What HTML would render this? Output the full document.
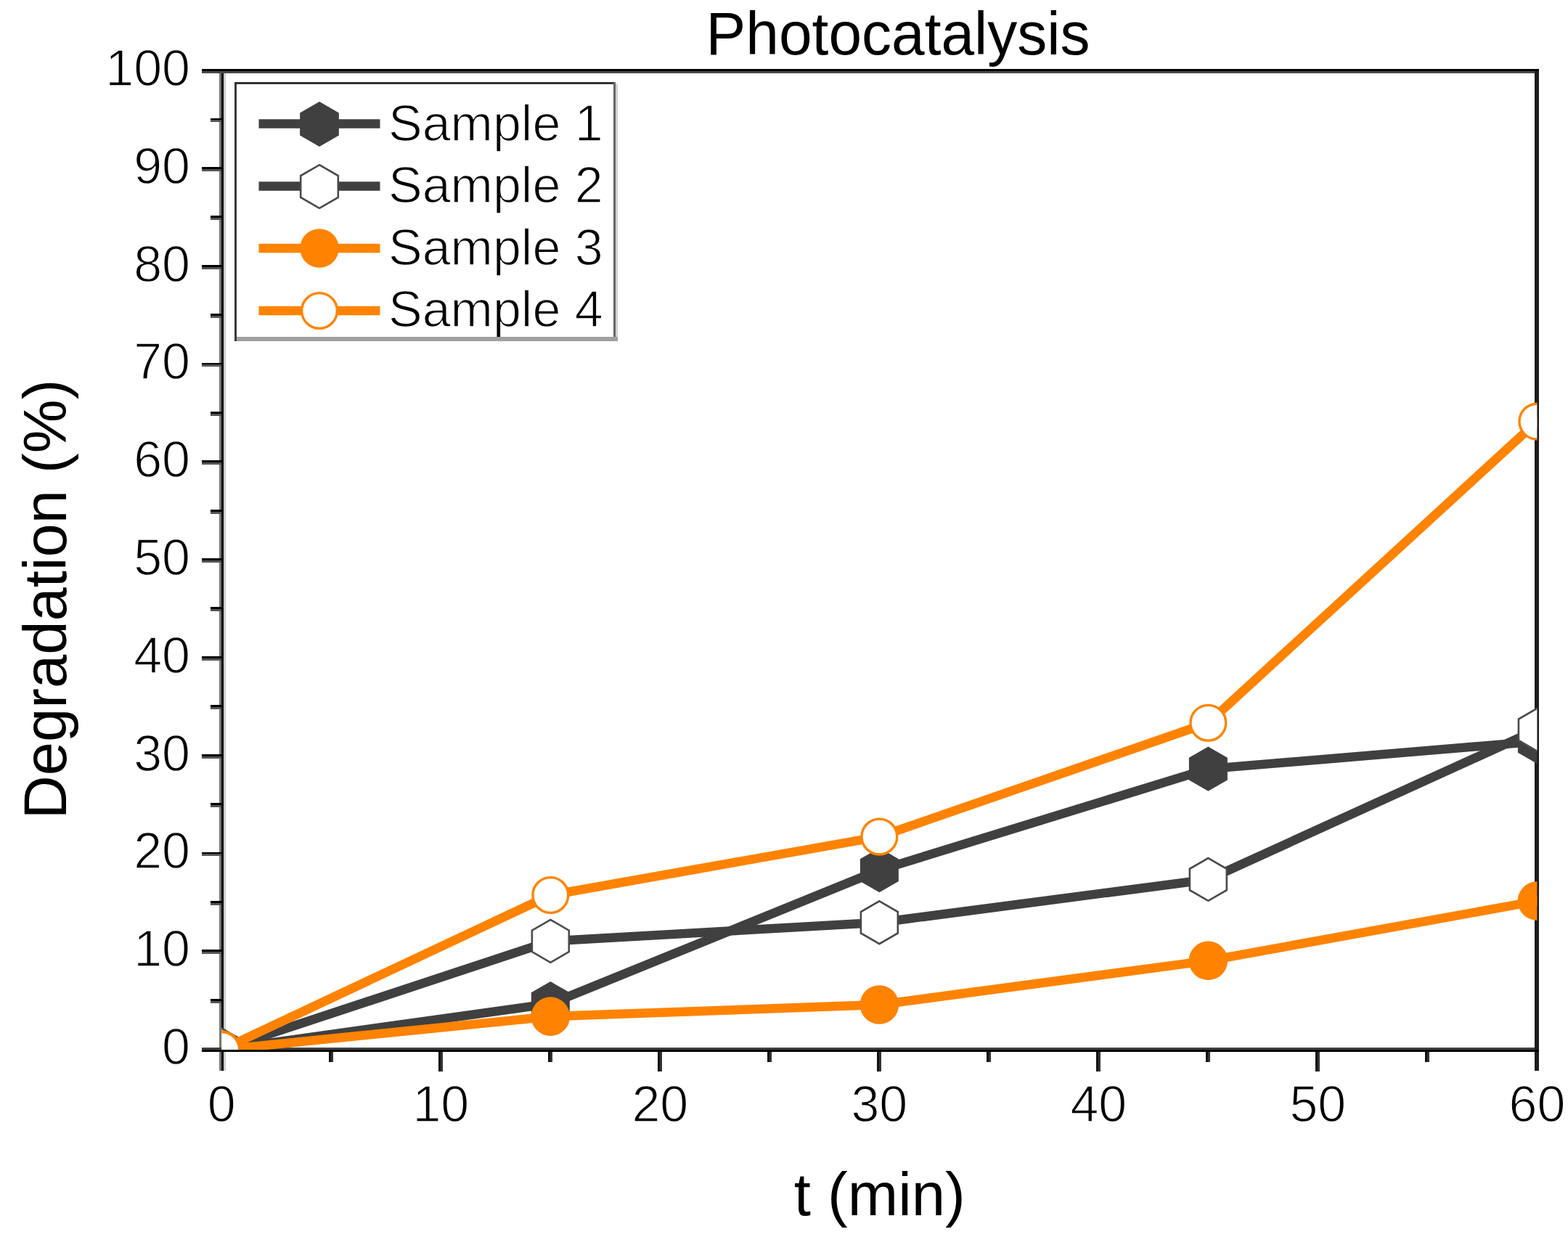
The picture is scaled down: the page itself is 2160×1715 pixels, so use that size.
<!DOCTYPE html>
<html><head><meta charset="utf-8"><title>Photocatalysis</title>
<style>html,body{margin:0;padding:0;background:#fff;} body{width:2160px;height:1715px;overflow:hidden;} svg{display:block;}</style>
</head><body>
<svg width="2160" height="1715" viewBox="0 0 2160 1715">
<style>text{font-family:"Liberation Sans",Arial,sans-serif;fill:#000;} .s{stroke:#fff;stroke-width:1.4px;}</style>
<rect x="0" y="0" width="2160" height="1715" fill="#fff"/>
<defs><clipPath id="pa"><rect x="305.30" y="98.00" width="1812.10" height="1348.00"/></clipPath></defs>
<rect x="302" y="95" width="3" height="1380" fill="#777"/>
<rect x="305" y="95" width="3" height="1380" fill="#000"/>
<rect x="308" y="101" width="3" height="1342" fill="#ccc"/>
<rect x="308" y="1449" width="3" height="26" fill="#ccc"/>
<rect x="2114" y="95" width="6" height="1380" fill="#1c1c1c"/>
<rect x="278" y="95" width="1842" height="3" fill="#000"/>
<rect x="278" y="98" width="1836" height="3" fill="#4a4a4a"/>
<rect x="278" y="1443" width="1836" height="3" fill="#404040"/>
<rect x="278" y="1446" width="1842" height="3" fill="#000"/>
<rect x="290" y="1376" width="15" height="3" fill="#000"/>
<rect x="290" y="1379" width="15" height="3" fill="#555"/>
<rect x="278" y="1308" width="27" height="3" fill="#000"/>
<rect x="278" y="1311" width="27" height="3" fill="#555"/>
<rect x="290" y="1241" width="15" height="3" fill="#000"/>
<rect x="290" y="1244" width="15" height="3" fill="#555"/>
<rect x="278" y="1174" width="27" height="2" fill="#000"/>
<rect x="278" y="1176" width="27" height="3" fill="#555"/>
<rect x="290" y="1106" width="15" height="3" fill="#000"/>
<rect x="290" y="1109" width="15" height="3" fill="#555"/>
<rect x="278" y="1039" width="27" height="3" fill="#000"/>
<rect x="278" y="1042" width="27" height="3" fill="#555"/>
<rect x="290" y="971" width="15" height="3" fill="#000"/>
<rect x="290" y="974" width="15" height="3" fill="#555"/>
<rect x="278" y="904" width="27" height="3" fill="#000"/>
<rect x="278" y="907" width="27" height="3" fill="#555"/>
<rect x="290" y="836" width="15" height="3" fill="#000"/>
<rect x="290" y="839" width="15" height="3" fill="#555"/>
<rect x="278" y="769" width="27" height="3" fill="#000"/>
<rect x="278" y="772" width="27" height="3" fill="#555"/>
<rect x="290" y="702" width="15" height="3" fill="#000"/>
<rect x="290" y="705" width="15" height="3" fill="#555"/>
<rect x="278" y="634" width="27" height="3" fill="#000"/>
<rect x="278" y="637" width="27" height="3" fill="#555"/>
<rect x="290" y="567" width="15" height="3" fill="#000"/>
<rect x="290" y="570" width="15" height="3" fill="#555"/>
<rect x="278" y="500" width="27" height="2" fill="#000"/>
<rect x="278" y="502" width="27" height="3" fill="#555"/>
<rect x="290" y="432" width="15" height="3" fill="#000"/>
<rect x="290" y="435" width="15" height="3" fill="#555"/>
<rect x="278" y="365" width="27" height="3" fill="#000"/>
<rect x="278" y="368" width="27" height="3" fill="#555"/>
<rect x="290" y="297" width="15" height="3" fill="#000"/>
<rect x="290" y="300" width="15" height="3" fill="#555"/>
<rect x="278" y="230" width="27" height="3" fill="#000"/>
<rect x="278" y="233" width="27" height="3" fill="#555"/>
<rect x="290" y="163" width="15" height="2" fill="#000"/>
<rect x="290" y="165" width="15" height="3" fill="#555"/>
<rect x="453" y="1449" width="3" height="14" fill="#111"/>
<rect x="456" y="1449" width="3" height="14" fill="#333"/>
<rect x="604" y="1449" width="3" height="27" fill="#111"/>
<rect x="607" y="1449" width="3" height="27" fill="#333"/>
<rect x="755" y="1449" width="3" height="14" fill="#111"/>
<rect x="758" y="1449" width="3" height="14" fill="#333"/>
<rect x="906" y="1449" width="3" height="27" fill="#111"/>
<rect x="909" y="1449" width="3" height="27" fill="#333"/>
<rect x="1057" y="1449" width="3" height="14" fill="#111"/>
<rect x="1060" y="1449" width="3" height="14" fill="#333"/>
<rect x="1208" y="1449" width="3" height="27" fill="#111"/>
<rect x="1211" y="1449" width="3" height="27" fill="#333"/>
<rect x="1359" y="1449" width="3" height="14" fill="#111"/>
<rect x="1362" y="1449" width="3" height="14" fill="#333"/>
<rect x="1510" y="1449" width="3" height="27" fill="#111"/>
<rect x="1513" y="1449" width="3" height="27" fill="#333"/>
<rect x="1661" y="1449" width="3" height="14" fill="#111"/>
<rect x="1664" y="1449" width="3" height="14" fill="#333"/>
<rect x="1812" y="1449" width="3" height="27" fill="#111"/>
<rect x="1815" y="1449" width="3" height="27" fill="#333"/>
<rect x="1963" y="1449" width="3" height="14" fill="#111"/>
<rect x="1966" y="1449" width="3" height="14" fill="#333"/>
<g clip-path="url(#pa)">
<polyline points="305.30,1446.00 758.33,1382.64 1211.35,1198.64 1664.38,1059.12 2117.40,1021.38" fill="none" stroke="#404040" stroke-width="12.5" stroke-linejoin="round" stroke-linecap="round"/>
<polygon points="305.30,1415.40 331.80,1430.70 331.80,1461.30 305.30,1476.60 278.80,1461.30 278.80,1430.70" fill="#404040"/>
<polygon points="758.33,1352.04 784.83,1367.34 784.83,1397.94 758.33,1413.24 731.82,1397.94 731.82,1367.34" fill="#404040"/>
<polygon points="1211.35,1168.04 1237.85,1183.34 1237.85,1213.94 1211.35,1229.24 1184.85,1213.94 1184.85,1183.34" fill="#404040"/>
<polygon points="1664.38,1028.52 1690.88,1043.82 1690.88,1074.42 1664.38,1089.72 1637.87,1074.42 1637.87,1043.82" fill="#404040"/>
<polygon points="2117.40,990.78 2143.90,1006.08 2143.90,1036.68 2117.40,1051.98 2090.90,1036.68 2090.90,1006.08" fill="#404040"/>
<polyline points="305.30,1446.00 758.33,1296.37 1211.35,1270.76 1664.38,1211.45 2117.40,1005.20" fill="none" stroke="#404040" stroke-width="12.5" stroke-linejoin="round" stroke-linecap="round"/>
<polygon points="305.30,1416.60 330.76,1431.30 330.76,1460.70 305.30,1475.40 279.84,1460.70 279.84,1431.30" fill="#fff" stroke="#4a4a4a" stroke-width="2.6"/>
<polygon points="758.33,1266.97 783.79,1281.67 783.79,1311.07 758.33,1325.77 732.86,1311.07 732.86,1281.67" fill="#fff" stroke="#4a4a4a" stroke-width="2.6"/>
<polygon points="1211.35,1241.36 1236.81,1256.06 1236.81,1285.46 1211.35,1300.16 1185.89,1285.46 1185.89,1256.06" fill="#fff" stroke="#4a4a4a" stroke-width="2.6"/>
<polygon points="1664.38,1182.05 1689.84,1196.75 1689.84,1226.15 1664.38,1240.85 1638.91,1226.15 1638.91,1196.75" fill="#fff" stroke="#4a4a4a" stroke-width="2.6"/>
<polygon points="2117.40,975.80 2142.86,990.50 2142.86,1019.90 2117.40,1034.60 2091.94,1019.90 2091.94,990.50" fill="#fff" stroke="#4a4a4a" stroke-width="2.6"/>
<polyline points="305.30,1446.00 758.33,1400.17 1211.35,1383.99 1664.38,1323.33 2117.40,1241.10" fill="none" stroke="#ff8300" stroke-width="12.5" stroke-linejoin="round" stroke-linecap="round"/>
<circle cx="305.30" cy="1446.00" r="26.8" fill="#ff8300"/>
<circle cx="758.33" cy="1400.17" r="26.8" fill="#ff8300"/>
<circle cx="1211.35" cy="1383.99" r="26.8" fill="#ff8300"/>
<circle cx="1664.38" cy="1323.33" r="26.8" fill="#ff8300"/>
<circle cx="2117.40" cy="1241.10" r="26.8" fill="#ff8300"/>
<polyline points="305.30,1446.00 758.33,1233.02 1211.35,1152.54 1664.38,995.77 2117.40,580.58" fill="none" stroke="#ff8300" stroke-width="12.5" stroke-linejoin="round" stroke-linecap="round"/>
<circle cx="305.30" cy="1446.00" r="24.4" fill="#fff" stroke="#ff8300" stroke-width="3.4"/>
<circle cx="758.33" cy="1233.02" r="24.4" fill="#fff" stroke="#ff8300" stroke-width="3.4"/>
<circle cx="1211.35" cy="1152.54" r="24.4" fill="#fff" stroke="#ff8300" stroke-width="3.4"/>
<circle cx="1664.38" cy="995.77" r="24.4" fill="#fff" stroke="#ff8300" stroke-width="3.4"/>
<circle cx="2117.40" cy="580.58" r="24.4" fill="#fff" stroke="#ff8300" stroke-width="3.4"/>
</g>
<text class="s" x="262" y="1466.00" text-anchor="end" font-size="70">0</text>
<text class="s" x="262" y="1331.20" text-anchor="end" font-size="70">10</text>
<text class="s" x="262" y="1196.40" text-anchor="end" font-size="70">20</text>
<text class="s" x="262" y="1061.60" text-anchor="end" font-size="70">30</text>
<text class="s" x="262" y="926.80" text-anchor="end" font-size="70">40</text>
<text class="s" x="262" y="792.00" text-anchor="end" font-size="70">50</text>
<text class="s" x="262" y="657.20" text-anchor="end" font-size="70">60</text>
<text class="s" x="262" y="522.40" text-anchor="end" font-size="70">70</text>
<text class="s" x="262" y="387.60" text-anchor="end" font-size="70">80</text>
<text class="s" x="262" y="252.80" text-anchor="end" font-size="70">90</text>
<text class="s" x="262" y="118.00" text-anchor="end" font-size="70">100</text>
<text class="s" x="305.30" y="1545" text-anchor="middle" font-size="70">0</text>
<text class="s" x="607.32" y="1545" text-anchor="middle" font-size="70">10</text>
<text class="s" x="909.33" y="1545" text-anchor="middle" font-size="70">20</text>
<text class="s" x="1211.35" y="1545" text-anchor="middle" font-size="70">30</text>
<text class="s" x="1513.37" y="1545" text-anchor="middle" font-size="70">40</text>
<text class="s" x="1815.38" y="1545" text-anchor="middle" font-size="70">50</text>
<text class="s" x="2117.40" y="1545" text-anchor="middle" font-size="70">60</text>
<text transform="translate(1237.1,75.3) scale(0.977,1)" text-anchor="middle" font-size="84">Photocatalysis</text>
<text x="1211.8" y="1673.5" text-anchor="middle" font-size="83.3">t (min)</text>
<text transform="translate(91,825.4) rotate(-90)" text-anchor="middle" font-size="83.2">Degradation (%)</text>
<rect x="323" y="113" width="525" height="356" fill="#fff"/>
<line x1="356.5" y1="170.5" x2="523.5" y2="170.5" stroke="#404040" stroke-width="12.5"/>
<polygon points="440.00,140.00 466.85,155.50 466.85,186.50 440.00,202.00 413.15,186.50 413.15,155.50" fill="#404040"/>
<text class="s" x="535" y="194.2" font-size="70">Sample 1</text>
<line x1="356.5" y1="256.5" x2="523.5" y2="256.5" stroke="#404040" stroke-width="12.5"/>
<polygon points="440.00,227.20 465.81,242.10 465.81,271.90 440.00,286.80 414.19,271.90 414.19,242.10" fill="#fff" stroke="#4a4a4a" stroke-width="2.6"/>
<text class="s" x="535" y="279.3" font-size="70">Sample 2</text>
<line x1="356.5" y1="342" x2="523.5" y2="342" stroke="#ff8300" stroke-width="12.5"/>
<circle cx="440" cy="342" r="26.8" fill="#ff8300"/>
<text class="s" x="535" y="365.0" font-size="70">Sample 3</text>
<line x1="356.5" y1="428" x2="523.5" y2="428" stroke="#ff8300" stroke-width="12.5"/>
<circle cx="440" cy="428" r="24.4" fill="#fff" stroke="#ff8300" stroke-width="3.4"/>
<text class="s" x="535" y="450.3" font-size="70">Sample 4</text>
<rect x="323" y="113" width="3" height="357" fill="#3a3a3a"/>
<rect x="323" y="113" width="525" height="3" fill="#333"/>
<rect x="845" y="113" width="3" height="351" fill="#666"/>
<rect x="848" y="116" width="3" height="354" fill="#d0d0d0"/>
<rect x="326" y="464" width="525" height="6" fill="#a0a0a0"/>
</svg>
</body></html>
